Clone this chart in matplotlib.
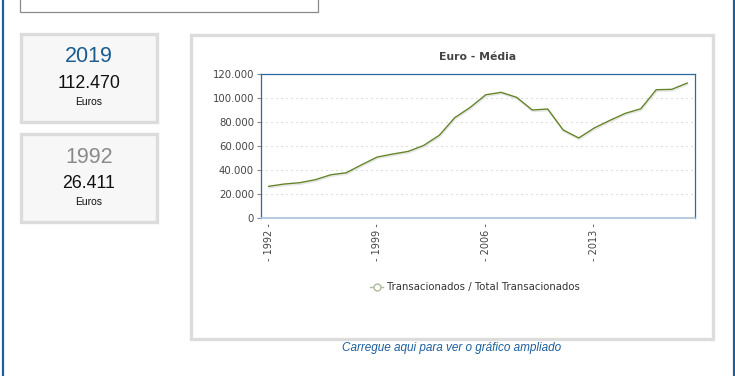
import matplotlib
matplotlib.use("Agg")
import matplotlib.pyplot as plt
import matplotlib.patheffects as pe
from matplotlib.patches import Rectangle
from matplotlib.lines import Line2D
from matplotlib.ticker import FuncFormatter

years = list(range(1992, 2020))
values = [26411, 28300, 29400, 31900, 36000, 37700, 44400, 50800, 53300, 55500,
          60500, 68900, 83600, 92200, 102700, 104700, 100500, 90000, 90800, 73300,
          66700, 75000, 81300, 87200, 91000, 106900, 107200, 112470]
tick_years = [1992, 1999, 2006, 2013]
title = "Euro - Média"
series_name = "Transacionados / Total Transacionados"
box_years = ["2019", "1992"]
box_values = ["112.470", "26.411"]
unit = "Euros"
link_text = "Carregue aqui para ver o gráfico ampliado"

W, H = 735, 376
fig = plt.figure(figsize=(W / 100, H / 100), dpi=100)
fig.patch.set_facecolor("white")

def rect_px(x0, y0, x1, y1, **kw):
    r = Rectangle((x0 / W, 1 - y1 / H), (x1 - x0) / W, (y1 - y0) / H,
                  transform=fig.transFigure, zorder=-1, **kw)
    fig.add_artist(r)
    return r

def text_px(x, y, s, **kw):
    return fig.text(x / W, 1 - y / H, s, **kw)

# outer blue borders
fig.add_artist(Line2D([2.5 / W, 2.5 / W], [0, 1], color="#1d5f9c", lw=1.6, transform=fig.transFigure))
fig.add_artist(Line2D([733.5 / W, 733.5 / W], [0, 1], color="#1d5f9c", lw=1.6, transform=fig.transFigure))

# top input box
rect_px(20, -5, 318, 12, facecolor="white", edgecolor="#8a8a8a", lw=0.9)

# summary boxes
box_y = [(34, 122), (134, 222)]
year_colors = ["#1a5c8f", "#8a8a8a"]
for (y0, y1), yr, val, col in zip(box_y, box_years, box_values, year_colors):
    rect_px(21, y0, 157, y1, facecolor="#f7f7f7", edgecolor="#dcdcdc", lw=2.4)
    text_px(89, y0 + 23, yr, fontsize=15.5, color=col, ha="center", va="center",
            family="Liberation Sans")
    text_px(89, y0 + 50, val, fontsize=12.8, color="#111111", ha="center", va="center",
            family="Liberation Sans")
    text_px(89, y0 + 68, unit, fontsize=7.5, color="#111111", ha="center", va="center",
            family="Liberation Sans")

# chart panel
rect_px(191, 35, 713, 339, facecolor="white", edgecolor="#dcdcdc", lw=2.4)

# axes
ax_l, ax_r, ax_t, ax_b = 261, 695, 74, 218
ax = fig.add_axes([ax_l / W, 1 - ax_b / H, (ax_r - ax_l) / W, (ax_b - ax_t) / H])
ax.set_zorder(2)
ax.set_facecolor("white")
idx = list(range(len(years)))
ax.plot(idx, values, color="#65842a", lw=1.0, solid_joinstyle="round",
        path_effects=[pe.SimpleLineShadow(offset=(0.4, -1.1), shadow_color="#888888", alpha=0.22, rho=1),
                      pe.Normal()], zorder=3)
ax.set_xlim(-0.5, len(years) - 0.5)
ax.set_ylim(0, 120000)
ax.set_yticks(range(0, 120001, 20000))
ax.yaxis.set_major_formatter(FuncFormatter(lambda v, p: f"{int(v):,}".replace(",", ".")))
for v in range(20000, 120000, 20000):
    ax.axhline(v, color="#bdbdbd", lw=0.72, linestyle=(0, (1, 4)), zorder=1)
ax.set_xticks([years.index(y) for y in tick_years])
ax.set_xticklabels([f"- {y} -" for y in tick_years], rotation=90, va="top", ha="center")
ax.tick_params(axis="x", length=0, pad=4, labelsize=7, labelcolor="#444444")
ax.tick_params(axis="y", length=3, width=0.8, color="#888888", pad=2, labelsize=7.3,
               labelcolor="#444444")
for s in ["top", "left", "right"]:
    ax.spines[s].set_color("#2c6a9f")
    ax.spines[s].set_linewidth(0.9)
ax.spines["bottom"].set_color("#a9c2dc")
ax.spines["bottom"].set_linewidth(1.2)

# title
text_px(478, 57, title, fontsize=7.8, fontweight="bold", color="#444444", ha="center", va="center")

# legend
fig.add_artist(Line2D([370 / W, 383 / W], [1 - 287 / H] * 2, color="#aebb98", lw=1,
                      transform=fig.transFigure))
fig.add_artist(Line2D([376.5 / W], [1 - 287 / H], marker="o", markersize=5, markerfacecolor="white",
                      markeredgecolor="#aebb98", markeredgewidth=1, transform=fig.transFigure))
text_px(387, 287, series_name, fontsize=7.25, color="#333333", ha="left", va="center")

# link
text_px(452, 348, link_text, fontsize=8.5, color="#1d5f9c", ha="center", va="center",
        family="Liberation Sans", style="italic")

fig.savefig("out.png", dpi=100, facecolor="white")
